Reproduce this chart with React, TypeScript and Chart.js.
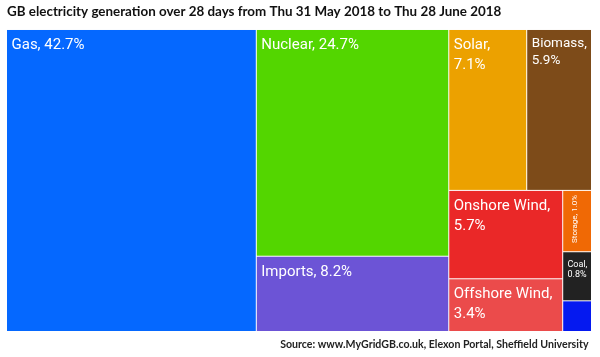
import React, { useEffect, useRef } from 'react';
import { Chart, registerables } from 'chart.js';

Chart.register(...registerables);

// ---- data ----
const categories = ['Gas', 'Nuclear', 'Imports', 'Solar', 'Biomass', 'Onshore Wind', 'Offshore Wind', 'Storage', 'Coal', 'Other'];
const shares = [42.7, 24.7, 8.2, 7.1, 5.9, 5.7, 3.4, 1.0, 0.8, 0.5];
const titleText = 'GB electricity generation over 28 days from Thu 31 May 2018 to Thu 28 June 2018';
const sourceText = 'Source: www.MyGridGB.co.uk, Elexon Portal, Sheffield University';

// ---- styles ----
const colors = ['#0568ff', '#53d600', '#6c54d6', '#eca100', '#7d4b19', '#ea2828', '#eb4b4b', '#f06905', '#222222', '#0519f0'];
type LabelStyle = { size: number; wrap: boolean; base: number; lh: number; pad: number; rotate?: boolean; hidden?: boolean };
const defaultLabel: LabelStyle = { size: 15, wrap: false, base: 19, lh: 20, pad: 4.5 };
const labelStyles: Record<string, Partial<LabelStyle>> = {
  Solar: { wrap: true },
  Biomass: { size: 13.5, wrap: true, base: 17, lh: 17 },
  'Onshore Wind': { wrap: true },
  'Offshore Wind': { wrap: true },
  Storage: { size: 8, rotate: true, base: 14, pad: 4 },
  Coal: { size: 9, wrap: true, base: 14.5, lh: 10.5, pad: 4.3 },
  Other: { hidden: true },
};

type Rect = { x0: number; y0: number; x1: number; y1: number };

// port of d3's squarified treemap tiling
function squarify(values: number[], W: number, H: number, ratio = (1 + Math.sqrt(5)) / 2): Rect[] {
  const out: Rect[] = new Array(values.length);
  let x0 = 0, y0 = 0, x1 = W, y1 = H;
  let value = values.reduce((a, b) => a + b, 0);
  let i0 = 0, i1 = 0;
  const n = values.length;
  while (i0 < n) {
    const dx = x1 - x0, dy = y1 - y0;
    let sumValue = values[i1++];
    let minValue = sumValue, maxValue = sumValue;
    const alpha = Math.max(dy / dx, dx / dy) / (value * ratio);
    let beta = sumValue * sumValue * alpha;
    let minRatio = Math.max(maxValue / beta, beta / minValue);
    for (; i1 < n; ++i1) {
      const nv = values[i1];
      sumValue += nv;
      if (nv < minValue) minValue = nv;
      if (nv > maxValue) maxValue = nv;
      beta = sumValue * sumValue * alpha;
      const newRatio = Math.max(maxValue / beta, beta / minValue);
      if (newRatio > minRatio) { sumValue -= nv; break; }
      minRatio = newRatio;
    }
    if (dx < dy) {
      const ny = y0 + dy * sumValue / value;
      let cx = x0;
      for (let i = i0; i < i1; i++) {
        const w = (x1 - x0) * values[i] / sumValue;
        out[i] = { x0: cx, y0: y0, x1: cx + w, y1: ny };
        cx += w;
      }
      y0 = ny;
    } else {
      const nx = x0 + dx * sumValue / value;
      let cy = y0;
      for (let i = i0; i < i1; i++) {
        const h = (y1 - y0) * values[i] / sumValue;
        out[i] = { x0: x0, y0: cy, x1: nx, y1: cy + h };
        cy += h;
      }
      x0 = nx;
    }
    value -= sumValue;
    i0 = i1;
  }
  return out;
}

const treemapPlugin = {
  id: 'treemapCells',
  afterDatasetsDraw(chart: any) {
    const { ctx, chartArea, scales } = chart;
    const xs = scales.x, ys = scales.y;
    const W = chartArea.right - chartArea.left;
    const H = chartArea.bottom - chartArea.top;
    const rects = squarify(shares, W, H);
    ctx.save();
    rects.forEach((r, i) => {
      const px0 = xs.getPixelForValue((r.x0 / W) * 100);
      const px1 = xs.getPixelForValue((r.x1 / W) * 100);
      const py0 = ys.getPixelForValue((r.y0 / H) * 100);
      const py1 = ys.getPixelForValue((r.y1 / H) * 100);
      ctx.fillStyle = colors[i];
      ctx.fillRect(px0, py0, px1 - px0 - 1, py1 - py0 - 1);

      const st: LabelStyle = { ...defaultLabel, ...(labelStyles[categories[i]] || {}) };
      if (st.hidden) return;
      const text = `${categories[i]}, ${shares[i].toFixed(1)}%`;
      ctx.fillStyle = '#ffffff';
      ctx.font = `${st.size}px Roboto, "Noto Sans", sans-serif`;
      ctx.textBaseline = 'alphabetic';
      if (st.rotate) {
        ctx.save();
        ctx.translate(px0 + st.base, py0 + st.pad);
        ctx.rotate(-Math.PI / 2);
        ctx.textAlign = 'right';
        ctx.fillText(text, 0, 0);
        ctx.restore();
        return;
      }
      ctx.textAlign = 'left';
      const lines = st.wrap ? [`${categories[i]},`, `${shares[i].toFixed(1)}%`] : [text];
      lines.forEach((ln, k) => {
        ctx.fillText(ln, px0 + st.pad, py0 + st.base + k * st.lh);
      });
    });
    // source note, bottom right under the cells
    ctx.fillStyle = '#222222';
    ctx.font = 'bold 10.6px Lato, "Open Sans", sans-serif';
    ctx.textAlign = 'right';
    ctx.textBaseline = 'alphabetic';
    ctx.fillText(sourceText, chartArea.right - 3.5, chartArea.bottom + 16.3);
    ctx.restore();
  },
};

export default function App() {
  const ref = useRef<HTMLCanvasElement | null>(null);
  useEffect(() => {
    if (!ref.current) return;
    const chart = new Chart(ref.current, {
      type: 'scatter',
      data: { datasets: [{ data: [] }] },
      options: {
        animation: false,
        responsive: false,
        layout: { padding: { left: 7, right: 8, top: 0, bottom: 25 } },
        scales: {
          x: { type: 'linear', min: 0, max: 100, display: false },
          y: { type: 'linear', min: 0, max: 100, reverse: true, display: false },
        },
        plugins: {
          legend: { display: false },
          tooltip: { enabled: false },
          title: {
            display: true,
            text: titleText,
            align: 'start',
            color: '#111111',
            font: { family: 'Lato, "Open Sans", sans-serif', size: 13.4, weight: 'bold', lineHeight: 1.2 },
            padding: { top: 3.6, bottom: 10.3 },
          },
        },
      },
      plugins: [treemapPlugin],
    } as any);
    return () => chart.destroy();
  }, []);
  return (
    <div style={{ position: 'absolute', left: 0, top: 0, width: 600, height: 357, background: '#ffffff' }}>
      <canvas ref={ref} width={600} height={357} style={{ display: 'block' }} />
    </div>
  );
}
